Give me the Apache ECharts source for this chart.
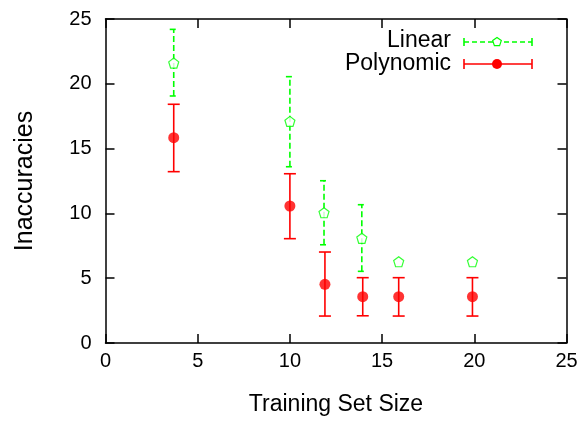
<!DOCTYPE html>
<html><head><meta charset="utf-8">
<script src="https://cdn.jsdelivr.net/npm/echarts@6/dist/echarts.min.js"></script>
<style>html,body{margin:0;padding:0;background:#fff}#c{width:582px;height:421px}</style>
</head><body><div id="c"></div>
<script>
// Data
const linearX = [3.7, 10, 11.85, 13.9, 15.9, 19.9];
const linearY = [21.6, 17.1, 10.05, 8.08, 6.27, 6.27];
const linearLow = [19.06, 13.6, 7.58, 5.53, 6.27, 6.27];
const linearHigh = [24.2, 20.55, 12.52, 10.67, 6.27, 6.27];
const polyX = [3.7, 10, 11.9, 13.95, 15.9, 19.9];
const polyY = [15.84, 10.57, 4.53, 3.57, 3.57, 3.57];
const polyLow = [13.22, 8.05, 2.08, 2.1, 2.08, 2.08];
const polyHigh = [18.42, 13.06, 7.02, 5.04, 5.04, 5.04];
const xTicks = [0, 5, 10, 15, 20, 25];
const yTicks = [0, 5, 10, 15, 20, 25];

const GREEN = '#00ff00', RED = '#ff0000';
const FONT = 'Liberation Sans';

function errData(xs, lo, hi) { return xs.map((x, i) => [x, lo[i], hi[i]]); }
function errRender(color, dash, capW) {
  return function (params, api) {
    const x = api.value(0);
    const lo = api.coord([x, api.value(1)]);
    const hi = api.coord([x, api.value(2)]);
    if (Math.abs(lo[1] - hi[1]) < 0.5) return null;
    const style = { stroke: color, lineWidth: 1.6, lineDash: dash };
    return { type: 'group', children: [
      { type: 'line', shape: { x1: lo[0], y1: lo[1], x2: hi[0], y2: hi[1] }, style },
      { type: 'line', shape: { x1: lo[0] - capW, y1: lo[1], x2: lo[0] + capW, y2: lo[1] }, style },
      { type: 'line', shape: { x1: hi[0] - capW, y1: hi[1], x2: hi[0] + capW, y2: hi[1] }, style }
    ]};
  };
}

const chart = echarts.init(document.getElementById('c'), null, { renderer: 'canvas' });
function axisCommon() {
  return {
    type: 'value', min: 0, max: 25, interval: 5,
    axisLine: { show: true, onZero: false, lineStyle: { color: '#000', width: 1.5 } },
    axisTick: { show: true, inside: true, length: 9, lineStyle: { color: '#000', width: 1.5 } },
    splitLine: { show: false }
  };
}
chart.setOption({
  animation: false,
  grid: { left: 105.5, right: 15.5, top: 19, bottom: 78, containLabel: false, outerBoundsMode: 'none' },
  xAxis: [
    Object.assign(axisCommon(), {
      position: 'bottom',
      axisLabel: { color: '#000', fontSize: 20, fontFamily: FONT, margin: 8, formatter: v => xTicks.includes(v) ? String(v) : '' },
      name: 'Training Set Size', nameLocation: 'middle', nameGap: 50,
      nameTextStyle: { color: '#000', fontSize: 23, fontFamily: FONT }
    }),
    Object.assign(axisCommon(), { position: 'top', axisLabel: { show: false } })
  ],
  yAxis: [
    Object.assign(axisCommon(), {
      position: 'left',
      axisLabel: { color: '#000', fontSize: 20, fontFamily: FONT, margin: 14, formatter: v => yTicks.includes(v) ? String(v) : '' },
      name: 'Inaccuracies', nameLocation: 'middle', nameGap: 68,
      nameTextStyle: { color: '#000', fontSize: 25, fontFamily: FONT }
    }),
    Object.assign(axisCommon(), { position: 'right', axisLabel: { show: false } })
  ],
  graphic: [
    { type: 'text', x: 451, y: 41, style: { text: 'Linear', font: '23px "Liberation Sans"', fill: '#000', align: 'right', verticalAlign: 'middle' } },
    { type: 'text', x: 451, y: 64, style: { text: 'Polynomic', font: '23px "Liberation Sans"', fill: '#000', align: 'right', verticalAlign: 'middle' } },
    { type: 'group', x: 464, y: 42, children: [
      { type: 'line', shape: { x1: 0, y1: 0, x2: 68, y2: 0 }, style: { stroke: GREEN, lineWidth: 1.6, lineDash: [5, 3] } },
      { type: 'line', shape: { x1: 0, y1: -4, x2: 0, y2: 4 }, style: { stroke: GREEN, lineWidth: 1.6 } },
      { type: 'line', shape: { x1: 68, y1: -4, x2: 68, y2: 4 }, style: { stroke: GREEN, lineWidth: 1.6 } },
      { type: 'polygon', shape: { points: [[33, -4.5], [37.3, -1.4], [35.6, 3.6], [30.4, 3.6], [28.7, -1.4]] }, style: { fill: '#fff', stroke: GREEN, lineWidth: 1.2 } }
    ]},
    { type: 'group', x: 464, y: 64, children: [
      { type: 'line', shape: { x1: 0, y1: 0, x2: 68, y2: 0 }, style: { stroke: RED, lineWidth: 1.6 } },
      { type: 'line', shape: { x1: 0, y1: -5, x2: 0, y2: 5 }, style: { stroke: RED, lineWidth: 1.6 } },
      { type: 'line', shape: { x1: 68, y1: -5, x2: 68, y2: 5 }, style: { stroke: RED, lineWidth: 1.6 } },
      { type: 'circle', shape: { cx: 33, cy: 0, r: 5 }, style: { fill: RED } }
    ]}
  ],
  series: [
    { type: 'custom', name: 'Linear err', renderItem: errRender(GREEN, [6, 3], 4), data: errData(linearX, linearLow, linearHigh), encode: { x: 0, y: [1, 2] }, z: 2 },
    { type: 'custom', name: 'Poly err', renderItem: errRender(RED, null, 6), data: errData(polyX, polyLow, polyHigh), encode: { x: 0, y: [1, 2] }, z: 2 },
    { type: 'scatter', name: 'Linear', data: linearX.map((x, i) => [x, linearY[i]]), symbol: 'path://M0,-10 L9.5,-3.1 L5.9,8.1 L-5.9,8.1 L-9.5,-3.1 Z', symbolSize: 10,
      itemStyle: { color: '#fff', borderColor: GREEN, borderWidth: 1.2 }, z: 3 },
    { type: 'scatter', name: 'Polynomic', data: polyX.map((x, i) => [x, polyY[i]]), symbol: 'circle', symbolSize: 11,
      itemStyle: { color: RED }, z: 3 }
  ]
});
</script></body></html>
